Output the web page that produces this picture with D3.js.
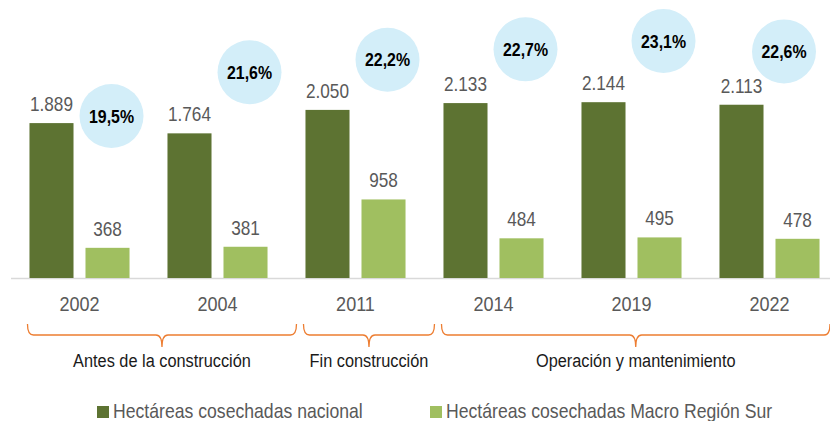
<!DOCTYPE html>
<html>
<head>
<meta charset="utf-8">
<script src="https://cdn.jsdelivr.net/npm/d3@7"></script>
<style>
  body { margin: 0; background: #fff; }
  svg { display: block; font-family: "Liberation Sans", Arial, sans-serif; }
</style>
</head>
<body>
<svg id="chart"></svg>
<script>
const years = ["2002", "2004", "2011", "2014", "2019", "2022"];
const nacional = [1889, 1764, 2050, 2133, 2144, 2113];
const macroSur = [368, 381, 958, 484, 495, 478];
const share = [19.5, 21.6, 22.2, 22.7, 23.1, 22.6];
const phases = [
    { label: "Antes de la construcción", from: "2002", to: "2004" },
    { label: "Fin construcción", from: "2011", to: "2011" },
    { label: "Operación y mantenimiento", from: "2014", to: "2022" }
];
const seriesNames = ["Hectáreas cosechadas nacional", "Hectáreas cosechadas Macro Región Sur"];

const width = 830;
const height = 421;
const colors = ["#5d7332", "#a0bf60"];
const narrow = 0.86; // no narrow font installed, squeeze Liberation Sans instead
const svg = d3.select("#chart").attr("width", width).attr("height", height);

const fmt = d3.formatLocale({ decimal: ",", thousands: ".", grouping: [3], currency: ["", ""] });
const fmtInt = fmt.format(",d");
const fmtPct = fmt.format(".1f");

const at = (x, y) => `translate(${x}, ${y}) scale(${narrow}, 1)`;

const x0 = d3.scaleBand()
    .domain(years)
    .range([10.5, 838.5])
    .paddingInner(0.275)
    .paddingOuter(0.1375);

const x1 = d3.scaleBand()
    .domain([0, 1])
    .range([0, x0.bandwidth()])
    .paddingInner(0.214);

const y = d3.scaleLinear().domain([0, 2500]).range([278, 73]);
const yPct = d3.scaleLinear().domain([19.5, 23.1]).range([116, 41]);

const rows = years.map((yr, i) => ({ year: yr, values: [nacional[i], macroSur[i]], pct: share[i] }));

// axis line + year labels
const xAxis = d3.axisBottom(x0).tickSize(0).tickPadding(0);
const gx = svg.append("g").attr("transform", `translate(0, ${y(0)})`).call(xAxis);
gx.select(".domain").attr("stroke", "#d9d9d9").attr("stroke-width", 1.5);
gx.selectAll(".tick text")
    .attr("dy", 0)
    .attr("y", 0)
    .attr("transform", at(0, 33))
    .attr("fill", "#595959")
    .attr("font-size", 21)
    .attr("font-family", "Liberation Sans, Arial, sans-serif");

// bars
const groups = svg.append("g").selectAll("g")
    .data(rows)
    .join("g")
    .attr("transform", d => `translate(${x0(d.year)}, 0)`);

groups.selectAll("rect")
    .data(d => d.values.map((v, k) => ({ k, v })))
    .join("rect")
    .attr("x", d => x1(d.k))
    .attr("width", x1.bandwidth())
    .attr("y", d => y(d.v))
    .attr("height", d => y(0) - y(d.v))
    .attr("fill", d => colors[d.k]);

groups.selectAll("text.val")
    .data(d => d.values.map((v, k) => ({ k, v })))
    .join("text")
    .attr("class", "val")
    .attr("transform", d => at(x1(d.k) + x1.bandwidth() / 2, y(d.v) - 12))
    .attr("text-anchor", "middle")
    .attr("fill", "#595959")
    .attr("font-size", 20)
    .text(d => fmtInt(d.v));

// share bubbles
const r = 32;
const bubbles = svg.append("g").selectAll("g")
    .data(rows)
    .join("g")
    .attr("transform", d => {
        const cx = Math.min(x0(d.year) + x1(1) + x1.bandwidth() / 2 + 4, width - r - 14);
        return `translate(${cx}, ${yPct(d.pct)})`;
    });
bubbles.append("circle").attr("r", r).attr("fill", "#d3eef9");
bubbles.append("text")
    .attr("transform", at(0, 0))
    .attr("text-anchor", "middle")
    .attr("dy", "0.36em")
    .attr("font-weight", "bold")
    .attr("font-size", 18.5)
    .attr("fill", "#000")
    .text(d => fmtPct(d.pct) + "%");

// phase braces
const braceTop = 324, braceMid = 335, braceTip = 347;
phases.forEach((p, i) => {
    const left = x0(p.from) - 2;
    const right = i < phases.length - 1 ? x0(phases[i + 1].from) - 9 : width;
    const mid = (left + right) / 2;
    const path = d3.path();
    path.moveTo(left, braceTop);
    path.quadraticCurveTo(left, braceMid, left + 6, braceMid);
    path.lineTo(mid - 6, braceMid);
    path.quadraticCurveTo(mid, braceMid, mid, braceTip);
    path.quadraticCurveTo(mid, braceMid, mid + 6, braceMid);
    path.lineTo(right - 6, braceMid);
    path.quadraticCurveTo(right, braceMid, right, braceTop);
    svg.append("path")
        .attr("d", path.toString())
        .attr("fill", "none")
        .attr("stroke", "#ed7d31")
        .attr("stroke-width", 1.3);
    svg.append("text")
        .attr("transform", at(mid, 367))
        .attr("text-anchor", "middle")
        .attr("fill", "#1a1a1a")
        .attr("font-size", 19)
        .text(p.label);
});

// legend
const legendX = [97, 430];
const legend = svg.append("g").selectAll("g")
    .data(seriesNames)
    .join("g")
    .attr("transform", (d, i) => `translate(${legendX[i]}, 406)`);
legend.append("rect").attr("width", 12).attr("height", 12).attr("fill", (d, i) => colors[i]);
legend.append("text")
    .attr("transform", at(16, 11.5))
    .attr("fill", "#595959")
    .attr("font-size", 20.5)
    .text(d => d);
</script>
</body>
</html>
